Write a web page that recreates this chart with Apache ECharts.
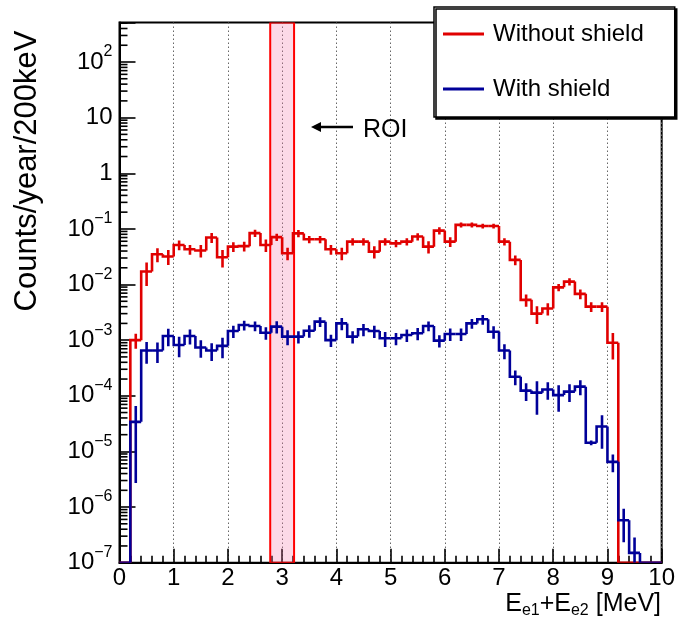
<!DOCTYPE html>
<html><head><meta charset="utf-8">
<script src="https://cdn.jsdelivr.net/npm/echarts@6/dist/echarts.min.js"></script>
<style>html,body{margin:0;padding:0;background:#fff}#c{width:678px;height:626px}</style>
</head><body><div id="c"></div>
<script>
// ---- data (200 keV bins, 0-10 MeV) ----
const binLowEdges = [0,0.2,0.4,0.6,0.8,1.0,1.2,1.4,1.6,1.8,2.0,2.2,2.4,2.6,2.8,3.0,3.2,3.4,3.6,3.8,
  4.0,4.2,4.4,4.6,4.8,5.0,5.2,5.4,5.6,5.8,6.0,6.2,6.4,6.6,6.8,7.0,7.2,7.4,7.6,7.8,
  8.0,8.2,8.4,8.6,8.8,9.0,9.2,9.4,9.6,9.8];
const binWidth = 0.2;
const withoutShield = [0,1.0e-3,0.0171,0.035,0.032,0.0515,0.043,0.041,0.070,0.031,
  0.048,0.049,0.084,0.0515,0.071,0.0365,0.083,0.065,0.065,0.043,
  0.0365,0.059,0.059,0.039,0.059,0.055,0.059,0.073,0.048,0.093,
  0.059,0.118,0.118,0.113,0.113,0.059,0.0277,0.0053,0.0030,0.0037,
  0.0089,0.0113,0.0068,0.0040,0.0040,0.0009,0,0,0,0];
const withoutShieldRelErr = [0,0.3,0.45,0.28,0.3,0.2,0.2,0.25,0.2,0.35,
  0.2,0.2,0.15,0.25,0.15,0.25,0.15,0.15,0.15,0.2,
  0.25,0.15,0.15,0.25,0.15,0.15,0.15,0.15,0.25,0.15,
  0.2,0.1,0.1,0.1,0.1,0.15,0.2,0.25,0.35,0.25,
  0.15,0.15,0.2,0.2,0.2,0.5,0,0,0,0];
const withShield = [0,3.4e-5,6.5e-4,6.5e-4,1.19e-3,8.2e-4,1.19e-3,7.4e-4,6.5e-4,7.9e-4,
  1.46e-3,1.87e-3,1.8e-3,1.36e-3,1.75e-3,1.16e-3,1.16e-3,1.48e-3,2.15e-3,1.0e-3,
  2.0e-3,1.16e-3,1.57e-3,1.46e-3,1.08e-3,1.08e-3,1.24e-3,1.33e-3,1.8e-3,9.8e-4,
  1.29e-3,1.29e-3,2.0e-3,2.37e-3,1.42e-3,6.5e-4,2.2e-4,1.24e-4,1.14e-4,1.3e-4,
  1.03e-4,1.19e-4,1.46e-4,1.43e-5,2.8e-5,6.5e-6,5.8e-7,1.5e-7,0,0];
const withShieldRelErr = [0,0.92,0.42,0.4,0.35,0.4,0.3,0.35,0.35,0.4,
  0.25,0.2,0.2,0.25,0.25,0.3,0.25,0.25,0.2,0.25,
  0.25,0.25,0.25,0.25,0.3,0.25,0.25,0.25,0.2,0.25,
  0.25,0.25,0.2,0.2,0.25,0.3,0.3,0.35,0.6,0.35,
  0.5,0.35,0.3,0.1,0.6,0.35,0.6,0.9,0,0];
const seriesNames = ['Without shield','With shield'];
const roiRange = [2.78, 3.22];
const yMinExp = -7, yMaxExp = 2.71;
const xTickLabels = ['0','1','2','3','4','5','6','7','8','9','10'];

// ---- helpers ----
const FONT = 'Liberation Sans';
const RED = '#e00000', BLUE = '#000099';
const TICK_W = 1.6;
function lg(v){ return v > 0 ? Math.max(Math.log10(v), yMinExp) : yMinExp; }
function histData(vals, rel){
  return vals.map((v,i)=>{
    const pv = i>0 ? vals[i-1] : 0;
    const r = rel[i];
    return [binLowEdges[i], binLowEdges[i]+binWidth, lg(v), lg(pv),
      (v>0 && r>0) ? lg(v*(1+r)) : lg(v), (v>0 && r>0) ? lg(v*(1-r)) : lg(v)];
  });
}
function histRender(color){
  return function(params, api){
    const lo = api.value(0), hi = api.value(1), y = api.value(2), py = api.value(3),
          yu = api.value(4), yd = api.value(5);
    const pP = api.coord([lo, py]), pL = api.coord([lo, y]), pR = api.coord([hi, y]);
    const children = [{type:'polyline', shape:{points:[pP,pL,pR]},
      style:{stroke:color, lineWidth:2.6, fill:null, lineJoin:'miter'}}];
    if (yu !== yd){
      const c = (lo+hi)/2;
      const a = api.coord([c, yu]), b = api.coord([c, yd]);
      children.push({type:'line', shape:{x1:a[0],y1:a[1],x2:b[0],y2:b[1]},
        style:{stroke:color, lineWidth:2.6}});
    }
    return {type:'group', children};
  };
}
// minor log ticks (2..9 x 10^n)
const minorTickExp = [];
for (let n = yMinExp; n <= 2; n++) for (let m = 2; m <= 9; m++){
  const e = Math.log10(m) + n; if (e < yMaxExp) minorTickExp.push(e);
}
const supMinus = '\u2212';

const chart = echarts.init(document.getElementById('c'), null, {renderer:'canvas'});
chart.setOption({
  animation:false,
  textStyle:{fontFamily:FONT},
  grid:{left:119.5, right:16, top:22.5, bottom:63.3, show:true, borderColor:'#000', borderWidth:2, backgroundColor:'transparent'},
  xAxis:{type:'value', min:0, max:10, interval:1,
    axisLine:{show:true, onZero:false, lineStyle:{color:'#000', width:2}},
    axisTick:{show:true, inside:true, length:14, lineStyle:{color:'#000', width:TICK_W}},
    minorTick:{show:true, splitNumber:5, length:7, lineStyle:{color:'#000', width:TICK_W}},
    splitLine:{show:true, lineStyle:{color:'#666', type:[1.5,2.5], width:1}},
    axisLabel:{fontSize:24, color:'#000', margin:4, fontFamily:FONT,
      formatter:(v)=> xTickLabels[Math.round(v)] ?? ''}
  },
  yAxis:{type:'value', min:yMinExp, max:yMaxExp, interval:1,
    axisLine:{show:true, onZero:false, lineStyle:{color:'#000', width:2}},
    axisTick:{show:true, inside:true, length:16, lineStyle:{color:'#000', width:TICK_W}},
    splitLine:{show:false},
    axisLabel:{color:'#000', margin:7, fontFamily:FONT,
      formatter:(v)=>{
        if (Math.abs(v-Math.round(v))>1e-6) return '';
        const n = Math.round(v);
        if (n===0) return '{b|1}';
        if (n===1) return '{b|10}';
        return '{b|10}{s|' + (n<0 ? supMinus + (-n) : n) + '}';
      },
      rich:{
        b:{fontSize:24, lineHeight:36, verticalAlign:'middle', fontFamily:FONT, color:'#000'},
        s:{fontSize:16, lineHeight:16, verticalAlign:'top', fontFamily:FONT, color:'#000'}
      }
    }
  },
  legend:{
    orient:'vertical', left:434, top:7,
    padding:[14,31,15,9], itemWidth:41, itemHeight:3, itemGap:29, icon:'rect',
    backgroundColor:'#fff', borderColor:'#000', borderWidth:1.5,
    shadowColor:'#000', shadowBlur:0, shadowOffsetX:2, shadowOffsetY:2,
    selectedMode:false,
    textStyle:{fontFamily:FONT, fontSize:24, color:'#000', lineHeight:26, padding:[0,0,0,4]},
    data:seriesNames, z:20
  },
  series:[
    {type:'custom', name:'ROI', z:1, silent:true, clip:true,
      data:[[roiRange[0], roiRange[1]]], encode:{x:[0,1]},
      renderItem:(params, api)=>{
        const a = api.coord([api.value(0), yMaxExp]), b = api.coord([api.value(1), yMinExp]);
        return {type:'rect', shape:{x:a[0], y:a[1], width:b[0]-a[0], height:b[1]-a[1]},
          style:{fill:'rgba(245,120,170,0.28)', stroke:'#ff0000', lineWidth:2}};
      }},
    {type:'custom', name:'minorTicks', z:6, silent:true, clip:false,
      data:[[5, 0]], encode:{x:0, y:1},
      renderItem:(params, api)=>{
        const children = minorTickExp.map(e=>{
          const p = api.coord([0, e]);
          return {type:'line', shape:{x1:p[0], y1:p[1], x2:p[0]+8, y2:p[1]}, style:{stroke:'#000', lineWidth:TICK_W}};
        });
        return {type:'group', children};
      }},
    {type:'custom', name:seriesNames[0], z:4, clip:true, itemStyle:{color:RED},
      data:histData(withoutShield, withoutShieldRelErr), encode:{x:[0,1], y:[2,3,4,5]},
      renderItem:histRender(RED)},
    {type:'custom', name:seriesNames[1], z:5, clip:true, itemStyle:{color:BLUE},
      data:histData(withShield, withShieldRelErr), encode:{x:[0,1], y:[2,3,4,5]},
      renderItem:histRender(BLUE)}
  ],
  graphic:[
    {type:'text', x:27, y:171, rotation:Math.PI/2,
      style:{text:'Counts/year/200keV', font:'31px "Liberation Sans"', fill:'#000', align:'center', verticalAlign:'middle'}},
    {type:'text', x:661, y:604,
      style:{text:'{m|E}{u|e1}{m|+E}{u|e2}{m| [MeV]}', align:'right', verticalAlign:'middle',
        rich:{m:{fontSize:25, lineHeight:30, verticalAlign:'middle', fontFamily:FONT, color:'#000'},
              u:{fontSize:16, lineHeight:16, verticalAlign:'bottom', fontFamily:FONT, color:'#000'}}}},
    {type:'line', shape:{x1:353, y1:127, x2:318, y2:127}, style:{stroke:'#000', lineWidth:2.5}, z:10},
    {type:'polygon', shape:{points:[[311,127],[321,122],[321,132]]}, style:{fill:'#000'}, z:10},
    {type:'text', x:363, y:130, style:{text:'ROI', font:'25px "Liberation Sans"', fill:'#000', verticalAlign:'middle'}, z:10}
  ]
});
</script></body></html>
